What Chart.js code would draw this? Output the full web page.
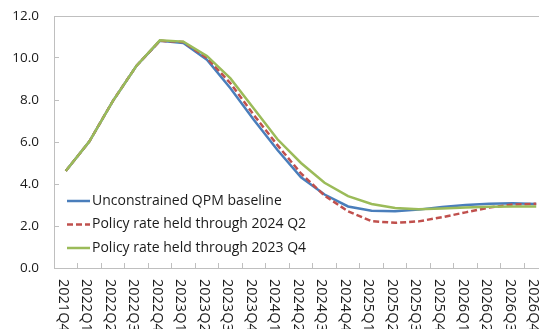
<!DOCTYPE html>
<html lang="en">
<head>
<meta charset="UTF-8">
<title>Policy rate paths</title>
<script src="https://cdn.jsdelivr.net/npm/chart.js"></script>
<style>
  html, body { margin: 0; padding: 0; background: #fff; overflow: hidden; }
  #wrap { width: 548px; height: 329px; position: relative; }
</style>
</head>
<body>
<div id="wrap"><canvas id="myChart"></canvas></div>
<script>
const quarters = ['2021Q4', '2022Q1', '2022Q2', '2022Q3', '2022Q4', '2023Q1', '2023Q2',
  '2023Q3', '2023Q4', '2024Q1', '2024Q2', '2024Q3', '2024Q4', '2025Q1', '2025Q2',
  '2025Q3', '2025Q4', '2026Q1', '2026Q2', '2026Q3', '2026Q4'];

const baseline = [4.62, 6.02, 7.95, 9.62, 10.82, 10.72, 9.92, 8.56, 7.05, 5.62, 4.32,
  3.50, 2.93, 2.73, 2.70, 2.78, 2.90, 3.00, 3.06, 3.08, 3.05];
const heldQ2_2024 = [4.62, 6.02, 7.95, 9.62, 10.82, 10.76, 10.00, 8.80, 7.28, 5.85, 4.50,
  3.45, 2.70, 2.23, 2.15, 2.22, 2.42, 2.65, 2.88, 3.02, 3.06];
const heldQ4_2023 = [4.62, 6.02, 7.95, 9.62, 10.84, 10.78, 10.10, 9.03, 7.58, 6.13, 5.00,
  4.06, 3.42, 3.05, 2.86, 2.80, 2.83, 2.88, 2.92, 2.93, 2.93];

const seriesNames = ['Unconstrained QPM baseline', 'Policy rate held through 2024 Q2',
  'Policy rate held through 2023 Q4'];

const FONT = '"Open Sans", "Noto Sans", sans-serif';

// box round the plot, rotated quarter labels, legend inside the plot
const extras = {
  id: 'extras',
  afterDraw(chart) {
    const { ctx, chartArea: a, scales: { x } } = chart;
    ctx.save();
    ctx.strokeStyle = '#bfbfbf';
    ctx.lineWidth = 1;
    ctx.strokeRect(Math.round(a.left) + 0.5, Math.round(a.top) + 0.5,
      Math.round(a.right - a.left), Math.round(a.bottom - a.top));

    ctx.fillStyle = '#1a1a1a';
    ctx.font = '14.5px ' + FONT;
    ctx.textAlign = 'left';
    ctx.textBaseline = 'middle';
    quarters.forEach((q, i) => {
      ctx.save();
      ctx.translate(x.getPixelForValue(i) - 3, a.bottom + 11);
      ctx.rotate(Math.PI / 2);
      ctx.fillText(q, 0, 0);
      ctx.restore();
    });

    ctx.font = '14px ' + FONT;
    chart.data.datasets.forEach((ds, i) => {
      const y = a.bottom - 67 + i * 23.5;
      ctx.strokeStyle = ds.borderColor;
      ctx.lineWidth = ds.borderWidth;
      ctx.setLineDash(ds.borderDash || []);
      ctx.beginPath();
      ctx.moveTo(a.left + 13, y);
      ctx.lineTo(a.left + 36, y);
      ctx.stroke();
      ctx.setLineDash([]);
      ctx.fillText(ds.label, a.left + 38, y);
    });
    ctx.restore();
  }
};

new Chart(document.getElementById('myChart'), {
  type: 'line',
  data: {
    labels: quarters,
    datasets: [
      { label: seriesNames[0], data: baseline, borderColor: '#4a7ebb', borderWidth: 2.5, order: 3 },
      { label: seriesNames[1], data: heldQ2_2024, borderColor: '#c0504d', borderWidth: 2.5,
        borderDash: [6, 3], order: 2 },
      { label: seriesNames[2], data: heldQ4_2023, borderColor: '#9bbb59', borderWidth: 2.5, order: 1 }
    ]
  },
  options: {
    responsive: true,
    maintainAspectRatio: false,
    animation: false,
    layout: { padding: { top: 16, left: 0, right: 0, bottom: 0 } },
    elements: { point: { radius: 0 }, line: { tension: 0 } },
    plugins: { legend: { display: false }, tooltip: { enabled: false } },
    scales: {
      x: {
        offset: true,
        grid: { offset: true, drawOnChartArea: false, drawTicks: true, tickLength: -5, color: '#bfbfbf' },
        border: { display: false },
        ticks: { display: false },
        afterFit(scale) { scale.height = 61; }
      },
      y: {
        min: 0,
        max: 12,
        grid: { drawOnChartArea: false, drawTicks: true, tickLength: -5, color: '#bfbfbf' },
        border: { display: false },
        ticks: {
          stepSize: 2,
          padding: 20,
          color: '#1a1a1a',
          font: { family: FONT, size: 13.5 },
          callback: v => v.toFixed(1)
        },
        afterFit(scale) {
          scale.width = 54;
          scale.paddingTop = 0;
          scale.paddingBottom = 0;
        }
      }
    }
  },
  plugins: [extras]
});
</script>
</body>
</html>
